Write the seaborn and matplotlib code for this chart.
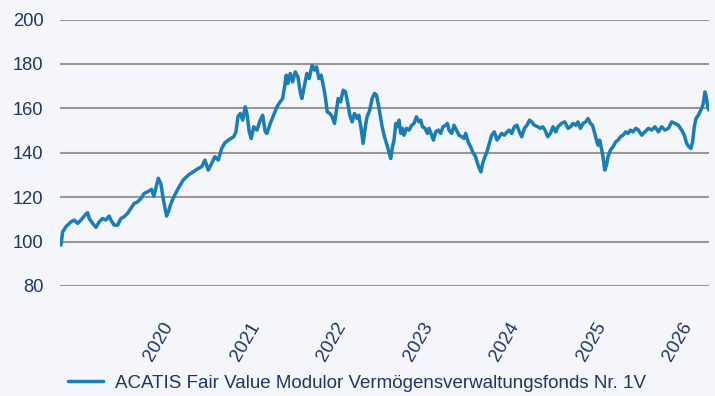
import numpy as np
import pandas as pd
import matplotlib
matplotlib.use("Agg")
import matplotlib.pyplot as plt
import matplotlib.transforms as mtransforms
import seaborn as sns

# Fund price index (start = 100), sampled along the time axis
year_frac = [
    2018.971, 2018.991, 2019.029, 2019.087, 2019.125, 2019.164, 2019.202, 2019.260, 2019.280, 2019.298,
    2019.338, 2019.376, 2019.414, 2019.453, 2019.491, 2019.529, 2019.549, 2019.587, 2019.627, 2019.665,
    2019.703, 2019.742, 2019.780, 2019.819, 2019.858, 2019.896, 2019.934, 2019.977, 2020.020, 2020.046,
    2020.069, 2020.098, 2020.127, 2020.156, 2020.193, 2020.220, 2020.237, 2020.269, 2020.327, 2020.385,
    2020.443, 2020.501, 2020.558, 2020.598, 2020.636, 2020.674, 2020.713, 2020.751, 2020.790, 2020.829,
    2020.867, 2020.917, 2020.968, 2020.994, 2021.017, 2021.044, 2021.072, 2021.102, 2021.121, 2021.148,
    2021.171, 2021.199, 2021.237, 2021.275, 2021.303, 2021.333, 2021.353, 2021.391, 2021.430, 2021.468,
    2021.506, 2021.534, 2021.557, 2021.576, 2021.595, 2021.622, 2021.650, 2021.680, 2021.711, 2021.738,
    2021.757, 2021.788, 2021.815, 2021.842, 2021.876, 2021.904, 2021.927, 2021.954, 2021.980, 2022.012,
    2022.031, 2022.050, 2022.081, 2022.108, 2022.135, 2022.158, 2022.177, 2022.205, 2022.235, 2022.262,
    2022.289, 2022.312, 2022.339, 2022.366, 2022.397, 2022.416, 2022.443, 2022.466, 2022.494, 2022.512,
    2022.543, 2022.570, 2022.598, 2022.621, 2022.644, 2022.667, 2022.686, 2022.713, 2022.743, 2022.775,
    2022.786, 2022.806, 2022.824, 2022.844, 2022.864, 2022.882, 2022.902, 2022.921, 2022.940, 2022.968,
    2022.998, 2023.029, 2023.055, 2023.083, 2023.113, 2023.133, 2023.153, 2023.183, 2023.210, 2023.229,
    2023.260, 2023.280, 2023.306, 2023.338, 2023.364, 2023.391, 2023.422, 2023.442, 2023.460, 2023.491,
    2023.518, 2023.546, 2023.576, 2023.607, 2023.634, 2023.653, 2023.684, 2023.711, 2023.738, 2023.769,
    2023.784, 2023.812, 2023.830, 2023.850, 2023.876, 2023.899, 2023.927, 2023.954, 2023.985, 2024.015,
    2024.043, 2024.069, 2024.101, 2024.131, 2024.158, 2024.185, 2024.216, 2024.246, 2024.274, 2024.301,
    2024.332, 2024.362, 2024.390, 2024.416, 2024.447, 2024.486, 2024.517, 2024.543, 2024.570, 2024.601,
    2024.632, 2024.662, 2024.694, 2024.720, 2024.760, 2024.798, 2024.836, 2024.864, 2024.894, 2024.925,
    2024.951, 2024.979, 2025.009, 2025.040, 2025.067, 2025.095, 2025.118, 2025.145, 2025.164, 2025.183,
    2025.202, 2025.222, 2025.240, 2025.260, 2025.280, 2025.298, 2025.326, 2025.356, 2025.387, 2025.414,
    2025.442, 2025.472, 2025.503, 2025.530, 2025.557, 2025.587, 2025.619, 2025.650, 2025.688, 2025.726,
    2025.765, 2025.803, 2025.842, 2025.881, 2025.919, 2025.957, 2025.997, 2026.035, 2026.073, 2026.112,
    2026.150, 2026.182, 2026.208, 2026.235, 2026.258, 2026.277, 2026.297, 2026.316, 2026.343, 2026.362,
    2026.382, 2026.401, 2026.420, 2026.436, 2026.451, 2026.467,
]

index_values = [
    98.4, 104.4, 106.7, 108.9, 109.7, 108.2, 109.7, 112.4, 113.0, 110.4,
    108.2, 106.4, 108.9, 110.4, 109.7, 111.5, 109.7, 107.4, 107.4, 110.4,
    111.2, 112.7, 114.9, 117.2, 117.9, 119.4, 121.7, 122.5, 123.5, 120.5,
    124.0, 128.5, 126.0, 119.0, 111.5, 114.0, 116.4, 119.5, 123.9, 127.7,
    129.9, 131.4, 132.9, 133.7, 136.7, 132.2, 135.2, 138.2, 136.7, 141.9,
    144.5, 146.0, 147.2, 149.4, 156.2, 157.7, 154.7, 160.7, 157.7, 149.4,
    146.4, 151.7, 150.2, 154.7, 156.9, 149.4, 148.7, 153.2, 156.9, 160.7,
    162.9, 164.4, 169.7, 174.9, 171.2, 175.7, 171.9, 176.4, 174.2, 167.4,
    164.4, 170.4, 175.7, 173.4, 179.4, 177.2, 178.7, 173.4, 174.9, 168.9,
    164.4, 158.4, 157.7, 156.2, 153.2, 159.2, 164.4, 162.9, 168.2, 167.4,
    162.2, 156.9, 153.9, 157.7, 155.4, 156.9, 150.9, 144.2, 152.4, 156.2,
    159.2, 164.4, 166.7, 165.9, 161.4, 156.2, 151.7, 147.2, 143.4, 138.8,
    137.4, 142.7, 145.7, 153.2, 151.7, 154.7, 148.7, 151.0, 147.9, 151.0,
    150.2, 152.4, 153.2, 156.2, 153.9, 154.7, 151.7, 151.0, 148.7, 151.0,
    147.9, 145.7, 149.4, 150.2, 148.7, 151.7, 152.4, 153.2, 150.2, 148.7,
    152.4, 150.2, 147.9, 147.2, 146.4, 148.7, 144.6, 142.7, 140.0, 138.2,
    135.9, 132.9, 131.4, 135.2, 138.2, 140.4, 144.2, 147.9, 149.4, 145.7,
    147.2, 148.7, 147.9, 149.4, 150.2, 148.7, 151.7, 152.4, 149.4, 147.2,
    151.0, 152.4, 154.7, 153.9, 152.4, 151.7, 151.0, 151.7, 150.2, 147.2,
    148.7, 151.7, 149.4, 151.7, 153.2, 153.9, 151.0, 151.7, 153.2, 152.4,
    153.9, 151.0, 153.2, 153.9, 155.4, 153.2, 152.4, 148.7, 145.7, 143.4,
    145.7, 141.9, 138.2, 132.2, 134.4, 138.2, 141.2, 142.7, 144.9, 145.7,
    147.2, 147.9, 149.4, 148.7, 150.2, 149.4, 151.0, 150.2, 147.9, 149.4,
    151.0, 150.2, 151.7, 149.4, 151.7, 150.2, 151.0, 153.9, 153.2, 152.4,
    150.2, 147.9, 144.2, 142.7, 141.9, 144.9, 151.7, 155.4, 156.9, 158.4,
    160.0, 162.2, 167.4, 165.2, 160.7, 159.2,
]

fund_name = "ACATIS Fair Value Modulor Vermögensverwaltungsfonds Nr. 1V"
y_ticks = [80, 100, 120, 140, 160, 180, 200]
year_ticks = [2020, 2021, 2022, 2023, 2024, 2025, 2026]

bg = "#f4f6fb"
line_color = "#1a7db5"
text_color = "#1f3468"
grid_color = "#9a9890"

sns.set_style("white", {"axes.facecolor": bg, "figure.facecolor": bg})
plt.rcParams["font.family"] = ["Liberation Sans", "DejaVu Sans"]


def to_timestamp(y):
    whole = int(np.floor(y))
    start = pd.Timestamp(year=whole, month=1, day=1)
    end = pd.Timestamp(year=whole + 1, month=1, day=1)
    return start + (end - start) * (y - whole)


df = pd.DataFrame({
    "Datum": [to_timestamp(v) for v in year_frac],
    "Wert": index_values,
    "Fonds": fund_name,
})

fig = plt.figure(figsize=(7.15, 3.96), dpi=100)
ax = fig.add_axes([60 / 715, 1 - 286 / 396, (709 - 60) / 715, (286 - 19.5) / 396])

sns.lineplot(data=df, x="Datum", y="Wert", hue="Fonds", palette=[line_color],
             linewidth=2.5, ax=ax, legend=True)

ax.set_ylim(80, 200)
ax.set_xlim(to_timestamp(2018.96), df["Datum"].iloc[-1])
ax.set_yticks(y_ticks)
ax.set_xticks([pd.Timestamp(year=y, month=1, day=1) for y in year_ticks])
ax.set_xticklabels([str(y) for y in year_ticks])
ax.set_xlabel("")
ax.set_ylabel("")

ax.grid(axis="y", color=grid_color, linewidth=1.5)
ax.grid(axis="x", visible=False)
ax.set_axisbelow(True)
for s in ax.spines.values():
    s.set_visible(False)

ax.tick_params(axis="y", length=0, pad=12, labelsize=13.2, labelcolor=text_color)
ax.tick_params(axis="x", length=0, pad=24, labelsize=13.5, labelcolor=text_color)
offset = mtransforms.ScaledTranslation(9 / 100, 0, fig.dpi_scale_trans)
for lbl in ax.get_xticklabels():
    lbl.set_rotation(60)
    lbl.set_ha("center")
    lbl.set_va("top")
    lbl.set_transform(lbl.get_transform() + offset)

leg = ax.legend(loc="center left", bbox_to_anchor=(60 / 715, 13 / 396),
                bbox_transform=fig.transFigure, frameon=False, fontsize=13.5,
                handlelength=1.9, handletextpad=0.65, borderaxespad=0)
for t in leg.get_texts():
    t.set_color(text_color)
for h in leg.get_lines():
    h.set_linewidth(2.5)

fig.savefig("out.png", dpi=100, facecolor=bg)
